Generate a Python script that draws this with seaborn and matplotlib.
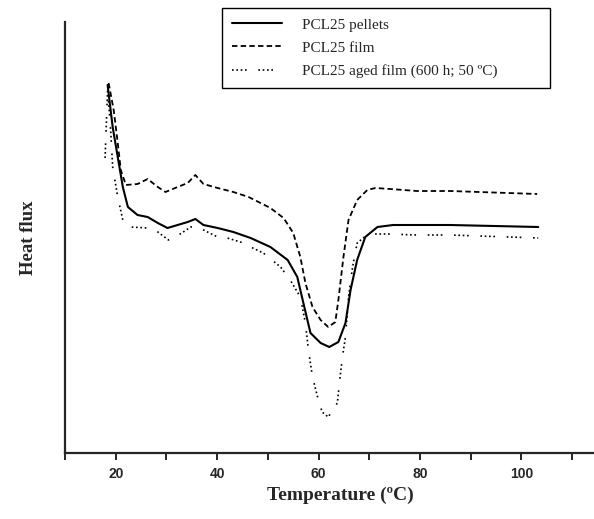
import numpy as np
import pandas as pd
import matplotlib
matplotlib.use("Agg")
import matplotlib.pyplot as plt
import seaborn as sns
from matplotlib.ticker import MultipleLocator

# Data (heat flux in arbitrary units)
pellets_T = [18.4, 19.4, 20.4, 21.4, 22.4, 24.3, 26.3, 28.3, 30.2, 32.2, 34.2, 35.7, 37.3, 40.1,
             43.2, 46.6, 50.5, 53.9, 55.8, 57.0, 58.4, 60.4, 62.1, 63.9, 65.3, 66.3, 67.6, 69.2,
             71.6, 74.7, 85.9, 103.3]
pellets_HF = [3.68, 3.26, 2.96, 2.66, 2.46, 2.38, 2.36, 2.30, 2.25, 2.28, 2.31, 2.34, 2.28, 2.25,
              2.21, 2.15, 2.06, 1.93, 1.76, 1.50, 1.20, 1.10, 1.06, 1.11, 1.30, 1.63, 1.93, 2.16,
              2.26, 2.28, 2.28, 2.26]

film_T = [18.6, 19.6, 20.4, 21.0, 22.0, 24.3, 26.3, 28.3, 29.8, 32.2, 34.2, 35.7, 37.3, 40.1,
          43.2, 46.2, 50.5, 53.1, 55.0, 56.4, 57.4, 58.8, 60.4, 61.9, 63.3, 63.9, 64.9, 65.9,
          67.6, 69.6, 71.2, 74.1, 79.4, 85.9, 103.1]
film_HF = [3.70, 3.43, 3.10, 2.83, 2.68, 2.69, 2.74, 2.66, 2.61, 2.66, 2.70, 2.78, 2.69, 2.65,
           2.61, 2.56, 2.45, 2.35, 2.20, 1.96, 1.70, 1.46, 1.33, 1.26, 1.31, 1.53, 1.96, 2.33,
           2.53, 2.63, 2.65, 2.64, 2.62, 2.62, 2.59]

aged_T = [17.9, 18.4, 19.0, 19.4, 20.4, 21.4, 23.0, 26.3, 28.3, 30.4, 32.4, 34.8, 36.1, 40.1,
          42.0, 45.2, 46.6, 49.1, 52.5, 54.4, 56.4, 57.4, 58.0, 58.8, 59.8, 60.7, 61.9, 63.7,
          64.1, 64.7, 65.3, 65.9, 66.7, 67.6, 69.8, 73.5, 79.4, 85.9, 103.3]
aged_HF = [2.95, 3.63, 3.23, 2.86, 2.56, 2.33, 2.26, 2.25, 2.21, 2.13, 2.18, 2.26, 2.26, 2.16,
           2.15, 2.10, 2.06, 2.00, 1.86, 1.73, 1.56, 1.30, 1.03, 0.76, 0.56, 0.41, 0.36, 0.50,
           0.70, 0.96, 1.16, 1.56, 1.86, 2.10, 2.19, 2.19, 2.18, 2.18, 2.15]

labels = ["PCL25 pellets", "PCL25 film", "PCL25 aged film (600 h; 50 \u00baC)"]
xticks = [20, 40, 60, 80, 100]

sns.set_style("ticks")
plt.rcParams["font.family"] = ["Liberation Sans", "DejaVu Sans"]

fig = plt.figure(figsize=(5.94, 5.19), dpi=100)
ax = fig.add_axes([65 / 594, 1 - 453 / 519, 1 - 65 / 594, (453 - 22) / 519])

sns.lineplot(x=pellets_T, y=pellets_HF, ax=ax, color="black", lw=1.5, label=labels[0], sort=False)
sns.lineplot(x=film_T, y=film_HF, ax=ax, color="black", lw=1.3, label=labels[1], sort=False)
sns.lineplot(x=aged_T, y=aged_HF, ax=ax, color="black", lw=1.2, label=labels[2], sort=False)
lines = ax.get_lines()
lines[1].set_linestyle((0, (3, 1.8)))
lines[2].set_linestyle((0, (1, 1.6, 1, 1.6, 1, 1.6, 1, 7)))

ax.set_xlim(10.0, 114.3)
ax.set_ylim(0, 4.31)
ax.set_xticks(xticks)
ax.xaxis.set_minor_locator(MultipleLocator(10))
ax.tick_params(axis="x", which="both", direction="out", length=5, width=1.2,
               labelsize=10, pad=5, color="black")
for t in ax.get_xticklabels():
    t.set_fontweight("bold")
ax.set_yticks([])
sns.despine(ax=ax)
ax.spines["left"].set_linewidth(1.6)
ax.spines["bottom"].set_linewidth(1.6)

ax.set_xlabel("Temperature (\u00baC)", fontsize=14, fontweight="bold",
              family=["Liberation Serif", "DejaVu Serif"])
ax.xaxis.set_label_coords(0.52, -0.079)
ax.set_ylabel("Heat flux", fontsize=13.5, fontweight="bold",
              family=["Liberation Serif", "DejaVu Serif"], labelpad=20)

leg = ax.legend(loc="upper left", bbox_to_anchor=(222 / 594, 1 - 88 / 519, 328 / 594, 80 / 519),
                bbox_transform=fig.transFigure, mode="expand", frameon=True, fancybox=False,
                prop={"family": ["Liberation Serif", "DejaVu Serif"], "size": 11},
                handlelength=3.3, handletextpad=1.3, labelspacing=0.62, borderpad=0.65,
                borderaxespad=0)
leg.get_frame().set_edgecolor("black")
leg.get_frame().set_linewidth(1.0)
leg.get_frame().set_alpha(1)

fig.savefig("out.png", dpi=100)
